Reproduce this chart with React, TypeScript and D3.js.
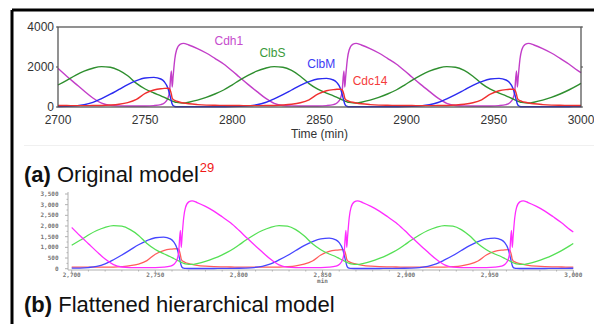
import { useEffect, useRef } from 'react';
import * as d3 from 'd3';

// time points (min) and species levels
const times = [
  2700, 2705, 2710, 2715, 2720, 2725, 2730, 2735, 2740, 2745, 2750, 2755, 2759, 2761, 2763, 2764,
  2765, 2765.5, 2766, 2767, 2768, 2770, 2772, 2775, 2780, 2785, 2790, 2795,
  2800, 2804, 2809, 2814, 2819, 2824, 2829, 2834, 2839, 2844, 2849, 2854, 2858, 2860, 2862, 2863,
  2864, 2864.5, 2865, 2866, 2867, 2869, 2871, 2874, 2879, 2884, 2889, 2894,
  2899, 2903, 2908, 2913, 2918, 2923, 2928, 2933, 2938, 2943, 2948, 2953, 2957, 2959, 2961, 2962,
  2963, 2963.5, 2964, 2965, 2966, 2968, 2970, 2973, 2978, 2983, 2988, 2993, 2998, 3000,
];

const cdh1 = [
  1930, 1540, 1170, 800, 450, 190, 80, 55, 50, 50, 52, 70, 120, 200, 420, 800,
  1800, 1000, 1500, 2400, 2850, 3130, 3180, 3100, 2920, 2700, 2430, 2150,
  1800, 1500, 1130, 780, 440, 180, 75, 55, 50, 50, 52, 70, 120, 200, 420, 800,
  1800, 1000, 1500, 2400, 2850, 3130, 3180, 3100, 2920, 2700, 2430, 2150,
  1800, 1500, 1130, 780, 440, 180, 75, 55, 50, 50, 52, 70, 120, 200, 420, 800,
  1800, 1000, 1500, 2400, 2850, 3130, 3180, 3100, 2920, 2700, 2430, 2150, 1830, 1720,
];

const clbS = [
  1100, 1330, 1580, 1790, 1940, 2020, 1990, 1830, 1560, 1180, 900, 700, 560, 480, 400, 360,
  320, 300, 280, 250, 230, 205, 200, 240, 340, 480, 650, 850,
  1110, 1330, 1580, 1790, 1940, 2020, 1990, 1830, 1540, 1170, 890, 690, 560, 480, 400, 360,
  320, 300, 280, 250, 230, 205, 200, 240, 340, 480, 650, 850,
  1110, 1330, 1580, 1790, 1940, 2020, 1990, 1830, 1540, 1170, 890, 690, 560, 480, 400, 360,
  320, 300, 280, 250, 230, 205, 200, 240, 340, 480, 650, 850, 1080, 1180,
];

const clbM = [
  25, 30, 55, 110, 230, 420, 640, 880, 1120, 1320, 1450, 1480, 1400, 1260, 950, 650,
  300, 150, 70, 25, 12, 10, 10, 10, 10, 10, 12, 15,
  20, 30, 55, 110, 225, 410, 620, 850, 1080, 1270, 1400, 1430, 1350, 1220, 930, 640,
  300, 150, 70, 25, 12, 10, 10, 10, 10, 10, 12, 15,
  20, 30, 55, 110, 225, 410, 620, 850, 1080, 1270, 1400, 1430, 1350, 1220, 930, 640,
  300, 150, 70, 25, 12, 10, 10, 10, 10, 10, 12, 15, 20, 22,
];

const cdc14 = [
  75, 72, 70, 70, 72, 78, 100, 140, 220, 380, 680, 850, 915, 930, 935, 905,
  650, 450, 380, 330, 290, 240, 200, 160, 120, 95, 85, 80,
  76, 72, 70, 70, 72, 78, 98, 135, 210, 360, 640, 810, 870, 885, 890, 860,
  630, 440, 370, 320, 285, 235, 200, 160, 120, 95, 85, 80,
  76, 72, 70, 70, 72, 78, 98, 135, 210, 360, 640, 810, 870, 885, 890, 860,
  630, 440, 370, 320, 285, 235, 200, 160, 120, 95, 85, 80, 77, 76,
];

const seriesNames = ['Cdh1', 'ClbS', 'ClbM', 'Cdc14'];
const topXTicks = [2700, 2750, 2800, 2850, 2900, 2950, 3000];
const topYTicks = [0, 2000, 4000];
const bottomXTicks = [2700, 2750, 2800, 2850, 2900, 2950, 3000];
const bottomYTicks = [0, 500, 1000, 1500, 2000, 2500, 3000, 3500];

const W = 594;
const H = 324;

export default function App() {
  const svgRef = useRef<SVGSVGElement>(null);

  useEffect(() => {
    if (!svgRef.current) return;
    const svg = d3.select(svgRef.current);
    svg.selectAll('*').remove();

    const values = [cdh1, clbS, clbM, cdc14];
    const font = '"Liberation Sans", Arial, Helvetica, sans-serif';

    svg.append('rect').attr('width', W).attr('height', H).attr('fill', '#fff');

    // outer frame (top and left edges)
    svg.append('line')
      .attr('x1', 12).attr('x2', W).attr('y1', 10).attr('y2', 10)
      .attr('stroke', '#000').attr('stroke-width', 3);
    svg.append('line')
      .attr('x1', 12).attr('x2', 12).attr('y1', 10).attr('y2', H)
      .attr('stroke', '#000').attr('stroke-width', 3);

    // ---------- (a) original model ----------
    const xa = d3.scaleLinear().domain([2700, 3000]).range([58, 581]);
    const ya = d3.scaleLinear().domain([0, 4000]).range([107, 27]);
    const topColors = ['#c23ec8', '#2f8f2f', '#2b2bf0', '#f03030'];
    const labelColors = ['#c64ccd', '#3a9a3a', '#3b3bf5', '#f53b3b'];

    const ga = svg.append('g');
    const lineA = d3.line<number>()
      .x((_, i) => xa(times[i]))
      .y(d => ya(d))
      .curve(d3.curveMonotoneX);

    values.forEach((vals, k) => {
      ga.append('path')
        .datum(vals)
        .attr('d', lineA)
        .attr('fill', 'none')
        .attr('stroke', topColors[k])
        .attr('stroke-width', 1.4);
    });

    ga.append('rect')
      .attr('x', xa(2700)).attr('y', ya(4000))
      .attr('width', xa(3000) - xa(2700)).attr('height', ya(0) - ya(4000))
      .attr('fill', 'none').attr('stroke', '#4a4a4a').attr('stroke-width', 1.2);

    topYTicks.forEach(t => {
      ga.append('line')
        .attr('x1', xa(2700) - 2).attr('x2', xa(2700)).attr('y1', ya(t)).attr('y2', ya(t))
        .attr('stroke', '#4a4a4a');
      ga.append('line')
        .attr('x1', xa(3000)).attr('x2', xa(3000) + 2).attr('y1', ya(t)).attr('y2', ya(t))
        .attr('stroke', '#4a4a4a');
      ga.append('text')
        .attr('x', xa(2700) - 4).attr('y', ya(t)).attr('dy', '0.35em')
        .attr('text-anchor', 'end').attr('font-family', font).attr('font-size', 12)
        .attr('fill', '#333').text(t);
    });

    topXTicks.forEach(t => {
      ga.append('text')
        .attr('x', xa(t)).attr('y', 124)
        .attr('text-anchor', 'middle').attr('font-family', font).attr('font-size', 12)
        .attr('fill', '#333').text(t);
    });

    ga.append('text')
      .attr('x', xa(2850)).attr('y', 138)
      .attr('text-anchor', 'middle').attr('font-family', font).attr('font-size', 12)
      .attr('fill', '#333').text('Time (min)');

    const labelPos = [
      { t: 2798, v: 3300 },
      { t: 2823, v: 2700 },
      { t: 2851, v: 2150 },
      { t: 2879, v: 1300 },
    ];
    seriesNames.forEach((name, k) => {
      ga.append('text')
        .attr('x', xa(labelPos[k].t)).attr('y', ya(labelPos[k].v)).attr('dy', '0.35em')
        .attr('text-anchor', 'middle').attr('font-family', font).attr('font-size', 12)
        .attr('fill', labelColors[k]).text(name);
    });

    // faint separator
    svg.append('line')
      .attr('x1', 24).attr('x2', W).attr('y1', 145.5).attr('y2', 145.5)
      .attr('stroke', '#f0f0f0').attr('stroke-width', 1);

    // caption (a)
    const capA = svg.append('text')
      .attr('x', 24).attr('y', 182).attr('font-family', font).attr('font-size', 22).attr('fill', '#111');
    capA.append('tspan').attr('font-weight', 'bold').text('(a)');
    capA.append('tspan').text(' Original model');
    capA.append('tspan').attr('fill', '#f01818').attr('font-size', 13).attr('dy', -10).attr('dx', 1).text('29');

    // ---------- (b) flattened hierarchical model ----------
    const xb = d3.scaleLinear().domain([2700, 3000]).range([71.7, 573.3]);
    const yb = d3.scaleLinear().domain([0, 3500]).range([268.7, 194]);
    const bottomColors = ['#ff2cff', '#55e055', '#4646ff', '#ff5c5c'];
    const gb = svg.append('g');
    const axisColor = '#b0b0b0';
    const tinyFont = '"DejaVu Sans Mono", monospace';

    // y axis with minor ticks
    gb.append('line')
      .attr('x1', 68).attr('x2', 68).attr('y1', yb(3500) - 2).attr('y2', 270)
      .attr('stroke', axisColor);
    d3.range(0, 3501, 250).forEach(v => {
      const major = v % 500 === 0;
      gb.append('line')
        .attr('x1', 68 - (major ? 3 : 1.5)).attr('x2', 68).attr('y1', yb(v)).attr('y2', yb(v))
        .attr('stroke', axisColor);
    });
    bottomYTicks.forEach(t => {
      gb.append('text')
        .attr('x', 58.5).attr('y', yb(t)).attr('dy', '0.35em')
        .attr('text-anchor', 'end').attr('font-family', tinyFont).attr('font-size', 6)
        .attr('font-weight', 'bold').attr('fill', '#777').text(d3.format(',')(t));
    });

    // x axis with minor ticks
    gb.append('line')
      .attr('x1', 68).attr('x2', xb(3000)).attr('y1', 270).attr('y2', 270)
      .attr('stroke', axisColor);
    d3.range(2700, 3001, 10).forEach(v => {
      const major = v % 50 === 0;
      gb.append('line')
        .attr('x1', xb(v)).attr('x2', xb(v)).attr('y1', 270).attr('y2', 270 + (major ? 3 : 1.5))
        .attr('stroke', axisColor);
    });
    bottomXTicks.forEach(t => {
      gb.append('text')
        .attr('x', xb(t)).attr('y', 277).attr('text-anchor', 'middle')
        .attr('font-family', tinyFont).attr('font-size', 6).attr('font-weight', 'bold')
        .attr('fill', '#777').text(d3.format(',')(t));
    });
    gb.append('text')
      .attr('x', xb(2850)).attr('y', 283).attr('text-anchor', 'middle')
      .attr('font-family', tinyFont).attr('font-size', 6).attr('font-weight', 'bold')
      .attr('fill', '#777').text('min');

    const lineB = d3.line<number>()
      .x((_, i) => xb(times[i]))
      .y(d => yb(d))
      .curve(d3.curveMonotoneX);

    [cdc14, clbM, clbS, cdh1].forEach((vals) => {
      const k = values.indexOf(vals);
      gb.append('path')
        .datum(vals)
        .attr('d', lineB)
        .attr('fill', 'none')
        .attr('stroke', bottomColors[k])
        .attr('stroke-width', 1.3);
    });

    // caption (b)
    const capB = svg.append('text')
      .attr('x', 24).attr('y', 312).attr('font-family', font).attr('font-size', 22).attr('fill', '#111');
    capB.append('tspan').attr('font-weight', 'bold').text('(b)');
    capB.append('tspan').text(' Flattened hierarchical model');
  }, []);

  return (
    <svg
      ref={svgRef}
      width={W}
      height={H}
      style={{ position: 'absolute', left: 0, top: 0, display: 'block' }}
    />
  );
}
